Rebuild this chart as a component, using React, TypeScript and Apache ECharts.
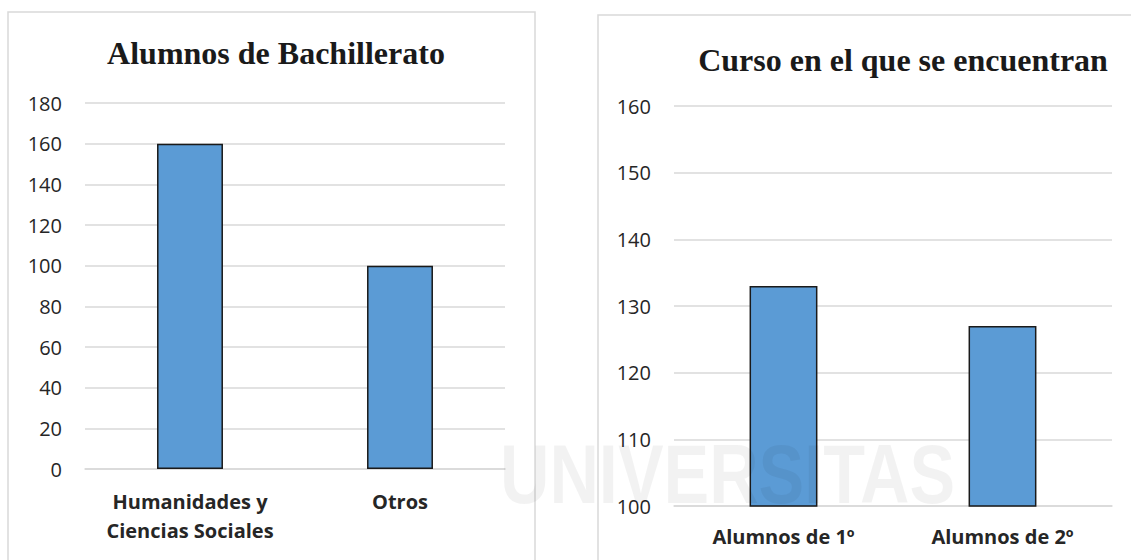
import React, { useEffect, useRef } from "react";
import * as echarts from "echarts";

const leftTitle = "Alumnos de Bachillerato";
const leftCategories = ["Humanidades y\nCiencias Sociales", "Otros"];
const leftValues = [160, 100];

const rightTitle = "Curso en el que se encuentran";
const rightCategories = ["Alumnos de 1º", "Alumnos de 2º"];
const rightValues = [133, 127];

const W = 1131;
const H = 560;

export default function App() {
  const ref = useRef<HTMLDivElement>(null);
  useEffect(() => {
    if (!ref.current) return;
    const chart = echarts.init(ref.current, undefined, { renderer: "svg" });
    const labelFont = "'Open Sans', 'Liberation Sans', sans-serif";
    const titleFont = "'Liberation Serif', 'DejaVu Serif', serif";
    const axisLabel = { color: "#262626", fontSize: 20, fontFamily: labelFont, margin: 23 };
    const catLabel = {
      color: "#262626",
      fontSize: 20,
      fontWeight: "bold" as const,
      fontFamily: labelFont,
      lineHeight: 29,
      interval: 0,
      margin: 18,
    };
    const barStyle = { color: "#5B9BD5", borderColor: "#1a1a1a", borderWidth: 1.5 };
    chart.setOption({
      animation: false,
      backgroundColor: "#ffffff",
      title: [
        {
          text: leftTitle,
          left: 271,
          top: 32,
          textAlign: "center",
          textStyle: { fontFamily: titleFont, fontWeight: "bold", fontSize: 32, color: "#1a1a1a" },
        },
        {
          text: rightTitle,
          left: 898,
          top: 39,
          textAlign: "center",
          textStyle: { fontFamily: titleFont, fontWeight: "bold", fontSize: 32, color: "#1a1a1a" },
        },
      ],
      grid: [
        { left: 85, right: W - 505, top: 103, bottom: H - 469 },
        { left: 674, right: W - 1112, top: 106, bottom: H - 506 },
      ],
      xAxis: [
        {
          type: "category",
          gridIndex: 0,
          data: leftCategories,
          axisLine: { show: true, lineStyle: { color: "#d9d9d9", width: 1.5 } },
          axisTick: { show: false },
          axisLabel: catLabel,
        },
        {
          type: "category",
          gridIndex: 1,
          data: rightCategories,
          axisLine: { show: true, lineStyle: { color: "#d9d9d9", width: 1.5 } },
          axisTick: { show: false },
          axisLabel: { ...catLabel, margin: 16 },
        },
      ],
      yAxis: [
        {
          type: "value",
          gridIndex: 0,
          min: 0,
          max: 180,
          interval: 20,
          axisLine: { show: false },
          axisTick: { show: false },
          axisLabel,
          splitLine: { lineStyle: { color: "#d9d9d9", width: 1.5 } },
        },
        {
          type: "value",
          gridIndex: 1,
          min: 100,
          max: 160,
          interval: 10,
          axisLine: { show: false },
          axisTick: { show: false },
          axisLabel,
          splitLine: { lineStyle: { color: "#d9d9d9", width: 1.5 } },
        },
      ],
      series: [
        {
          type: "bar",
          xAxisIndex: 0,
          yAxisIndex: 0,
          data: leftValues,
          barWidth: "31.4%",
          itemStyle: barStyle,
        },
        {
          type: "bar",
          xAxisIndex: 1,
          yAxisIndex: 1,
          data: rightValues,
          barWidth: "31%",
          itemStyle: barStyle,
        },
      ],
      graphic: [
        {
          type: "rect",
          shape: { x: 8, y: 12, width: 527, height: 560 },
          style: { fill: "none", stroke: "#d9d9d9", lineWidth: 1.5 },
          z: -10,
          silent: true,
        },
        {
          type: "rect",
          shape: { x: 598, y: 15, width: 560, height: 560 },
          style: { fill: "none", stroke: "#d9d9d9", lineWidth: 1.5 },
          z: -10,
          silent: true,
        },
        {
          type: "text",
          x: 500,
          y: 432,
          scaleX: 0.815,
          z: 100,
          silent: true,
          style: {
            text: "UNIVERSITAS",
            fontFamily: "'Liberation Sans', sans-serif",
            fontWeight: "bold",
            fontSize: 84,
            fill: "rgba(0,0,0,0.05)",
          },
        },
      ],
    });
    return () => chart.dispose();
  }, []);
  return (
    <div
      ref={ref}
      style={{ position: "fixed", left: 0, top: 0, width: W, height: H, background: "#fff" }}
    />
  );
}
